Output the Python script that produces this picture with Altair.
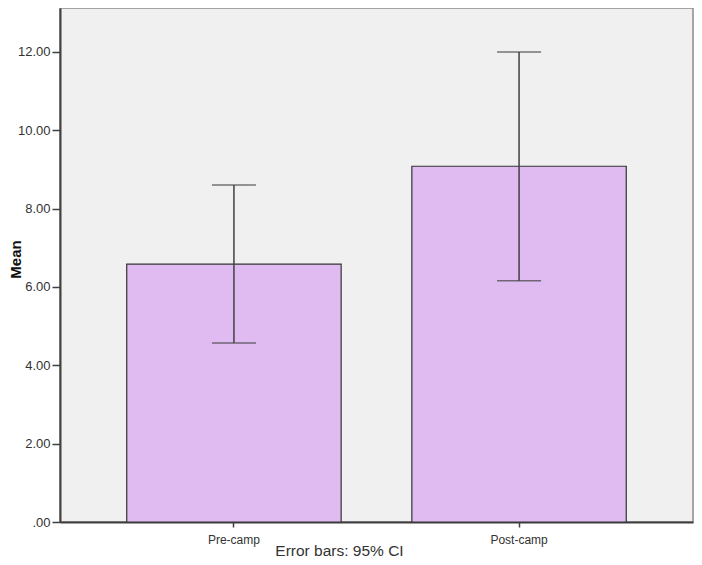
import altair as alt
import pandas as pd

groups = ["Pre-camp", "Post-camp"]
means = [6.58, 9.08]
ci_low = [4.57, 6.16]
ci_high = [8.60, 12.00]
y_ticks = [0, 2, 4, 6, 8, 10, 12]

df = pd.DataFrame({"group": groups, "mean": means, "lo": ci_low, "hi": ci_high})

W, H = 633, 514
xs = alt.Scale(domain=groups, paddingInner=0.248, paddingOuter=0.234)
ys = alt.Scale(domain=[0, 13.12], nice=False, zero=True)

x_axis = alt.Axis(
    title="Error bars: 95% CI", labelAngle=0, tickSize=5, tickColor="#404040", tickWidth=1.5,
    labelPadding=16, labelBaseline="alphabetic", labelFont="Liberation Sans", labelFontSize=12,
    labelColor="#333333", domainColor="#404040", domainWidth=2,
    titleFont="Liberation Sans", titleFontSize=15.5,
    titleFontWeight="normal", titleColor="#333333", titleX=279, titleY=33,
    titleBaseline="alphabetic", titleAlign="center",
)
y_axis = alt.Axis(
    title="Mean", values=y_ticks, grid=False, tickSize=8, tickColor="#404040", tickWidth=1.5,
    labelPadding=2, labelFont="Liberation Sans", labelFontSize=13, labelColor="#333333",
    labelExpr="datum.value == 0 ? '.00' : format(datum.value, '.2f')",
    domainColor="#404040", domainWidth=2,
    titleFont="Liberation Sans", titleFontSize=15, titleFontWeight="bold", titleColor="#111111",
    titleX=-37, titleY=251, titleAngle=270, titleAlign="center", titleBaseline="bottom",
)

base = alt.Chart(df)
bars = base.mark_bar(color="#dfbbf2", stroke="#333333", strokeWidth=1.2).encode(
    x=alt.X("group:N", scale=xs, axis=x_axis, sort=groups),
    y=alt.Y("mean:Q", scale=ys, axis=y_axis),
)
rule = base.mark_rule(color="#404040", strokeWidth=1.5).encode(
    x=alt.X("group:N", scale=xs, sort=groups),
    y="lo:Q", y2="hi:Q",
)
cap_hi = base.mark_tick(color="#404040", thickness=1.5, size=44, orient="horizontal").encode(
    x=alt.X("group:N", scale=xs, sort=groups), y="hi:Q")
cap_lo = base.mark_tick(color="#404040", thickness=1.5, size=44, orient="horizontal").encode(
    x=alt.X("group:N", scale=xs, sort=groups), y="lo:Q")

chart = alt.layer(bars, rule, cap_hi, cap_lo).properties(
    width=W, height=H,
    background="white",
    autosize=alt.AutoSizeParams(type="none"),
    padding={"left": 52, "top": 0, "right": 1, "bottom": 35},
).configure_view(fill="#f0f0f0", stroke="#8a8a8a", strokeWidth=1.5)

chart.save("out.html", embed_options={"renderer": "svg", "actions": False})
